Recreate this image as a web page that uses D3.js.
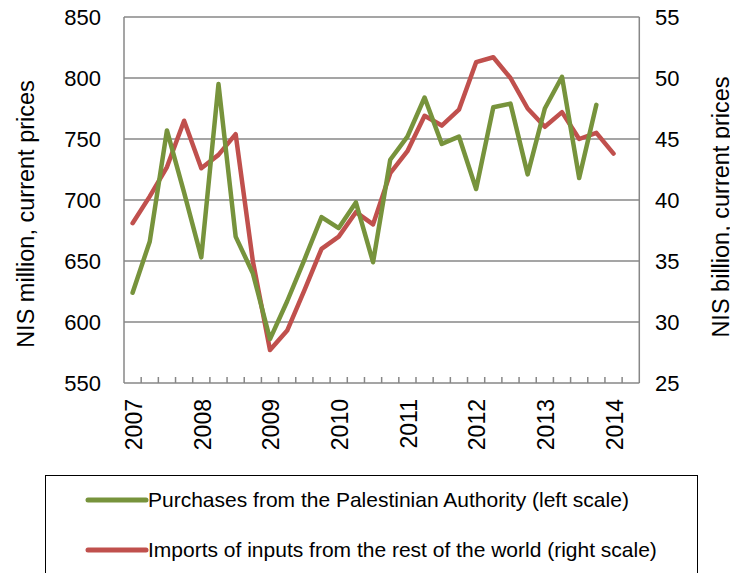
<!DOCTYPE html>
<html><head><meta charset="utf-8">
<script src="https://cdn.jsdelivr.net/npm/d3@7"></script>
<style>
body{margin:0;background:#fff}
text{font-family:"Liberation Sans",Arial,sans-serif;fill:#000}
</style>
</head><body>
<svg id="c" width="730" height="573"></svg>
<script>
const quarters = ["2007Q1","2007Q2","2007Q3","2007Q4","2008Q1","2008Q2","2008Q3","2008Q4",
  "2009Q1","2009Q2","2009Q3","2009Q4","2010Q1","2010Q2","2010Q3","2010Q4",
  "2011Q1","2011Q2","2011Q3","2011Q4","2012Q1","2012Q2","2012Q3","2012Q4",
  "2013Q1","2013Q2","2013Q3","2013Q4","2014Q1","2014Q2"];
const yearLabels = ["2007","2008","2009","2010","2011","2012","2013","2014"];
const leftTicks = [550,600,650,700,750,800,850];
const rightTicks = [25,30,35,40,45,50,55];
const purchasesPA = [624,666,757,706,653,795,670,640,586,617,651,686,677,698,649,733,
  752,784,746,752,709,776,779,721,775,801,718,778];
const importsWorld = [38.1,40.3,42.7,46.5,42.6,43.7,45.4,35.0,27.7,29.3,32.6,36.0,37.0,39.0,38.0,42.2,
  44.0,46.9,46.1,47.4,51.3,51.7,50.0,47.5,46.0,47.2,45.0,45.5,43.8];
const seriesNames = ["Purchases from the Palestinian Authority (left scale)",
  "Imports of inputs from the rest of the world (right scale)"];
const colors = ["#77933C","#C0504D"];

const svg = d3.select("#c");
const L = 124, R = 639.3, T = 17, B = 383;
const x = d3.scaleBand().domain(quarters).range([L, R]).padding(0);
const yL = d3.scaleLinear().domain([550, 850]).range([B, T]);
const yR = d3.scaleLinear().domain([25, 55]).range([B, T]);
const cx = d => x(d) + x.bandwidth() / 2;
const gridC = "#878787";

// gridlines
svg.append("g").selectAll("line").data(leftTicks.slice(1)).join("line")
  .attr("x1", L).attr("x2", R).attr("y1", d => yL(d)).attr("y2", d => yL(d))
  .attr("stroke", gridC).attr("stroke-width", 1.5);
// axes lines
svg.append("line").attr("x1", L).attr("x2", L).attr("y1", T).attr("y2", B).attr("stroke", gridC).attr("stroke-width", 1.5);
svg.append("line").attr("x1", R).attr("x2", R).attr("y1", T).attr("y2", B).attr("stroke", gridC).attr("stroke-width", 1.5);
svg.append("line").attr("x1", L).attr("x2", R).attr("y1", B).attr("y2", B).attr("stroke", gridC).attr("stroke-width", 1.5);
// x ticks (category boundaries, inward)
svg.append("g").selectAll("line").data(quarters.slice(1)).join("line")
  .attr("x1", d => x(d)).attr("x2", d => x(d)).attr("y1", B).attr("y2", B - 6)
  .attr("stroke", gridC).attr("stroke-width", 1.5);

// tick labels
svg.append("g").selectAll("text").data(leftTicks).join("text")
  .attr("x", 101).attr("y", d => yL(d)).attr("dy", "0.36em").attr("text-anchor", "end")
  .attr("font-size", 22).text(d => d);
svg.append("g").selectAll("text").data(rightTicks).join("text")
  .attr("x", 655).attr("y", d => yR(d)).attr("dy", "0.36em").attr("text-anchor", "start")
  .attr("font-size", 22).text(d => d);

// year labels (at first quarter of each year)
svg.append("g").selectAll("text").data(yearLabels).join("text")
  .attr("transform", d => `translate(${cx(d + "Q1") + 1},399) rotate(-90)`)
  .attr("dy", "0.36em").attr("text-anchor", "end").attr("font-size", 23).text(d => d);

// axis titles
svg.append("text").attr("transform", "translate(26,214) rotate(-90)")
  .attr("dy", "0.33em").attr("text-anchor", "middle").attr("font-size", 23.5)
  .text("NIS million, current prices");
svg.append("text").attr("transform", "translate(721,207) rotate(-90)")
  .attr("dy", "0.33em").attr("text-anchor", "middle").attr("font-size", 23.5)
  .text("NIS billion, current prices");

// lines
const lineL = d3.line().x((d, i) => cx(quarters[i])).y(d => yL(d));
const lineR = d3.line().x((d, i) => cx(quarters[i])).y(d => yR(d));
svg.append("path").datum(importsWorld).attr("d", lineR).attr("fill", "none")
  .attr("stroke", colors[1]).attr("stroke-width", 4.5).attr("stroke-linejoin", "round").attr("stroke-linecap", "round");
svg.append("path").datum(purchasesPA).attr("d", lineL).attr("fill", "none")
  .attr("stroke", colors[0]).attr("stroke-width", 4.5).attr("stroke-linejoin", "round").attr("stroke-linecap", "round");

// legend
svg.append("rect").attr("x", 45.5).attr("y", 475.5).attr("width", 652).attr("height", 120)
  .attr("fill", "none").attr("stroke", "#000").attr("stroke-width", 1);
const lg = svg.append("g").selectAll("g").data(seriesNames).join("g")
  .attr("transform", (d, i) => `translate(0,${500 + i * 50})`);
lg.append("line").attr("x1", 88).attr("x2", 146).attr("y1", 0).attr("y2", 0)
  .attr("stroke", (d, i) => colors[i]).attr("stroke-width", 5).attr("stroke-linecap", "round");
lg.append("text").attr("x", 148).attr("y", 0).attr("dy", "0.35em").attr("font-size", 21).text(d => d);
</script>
</body></html>
